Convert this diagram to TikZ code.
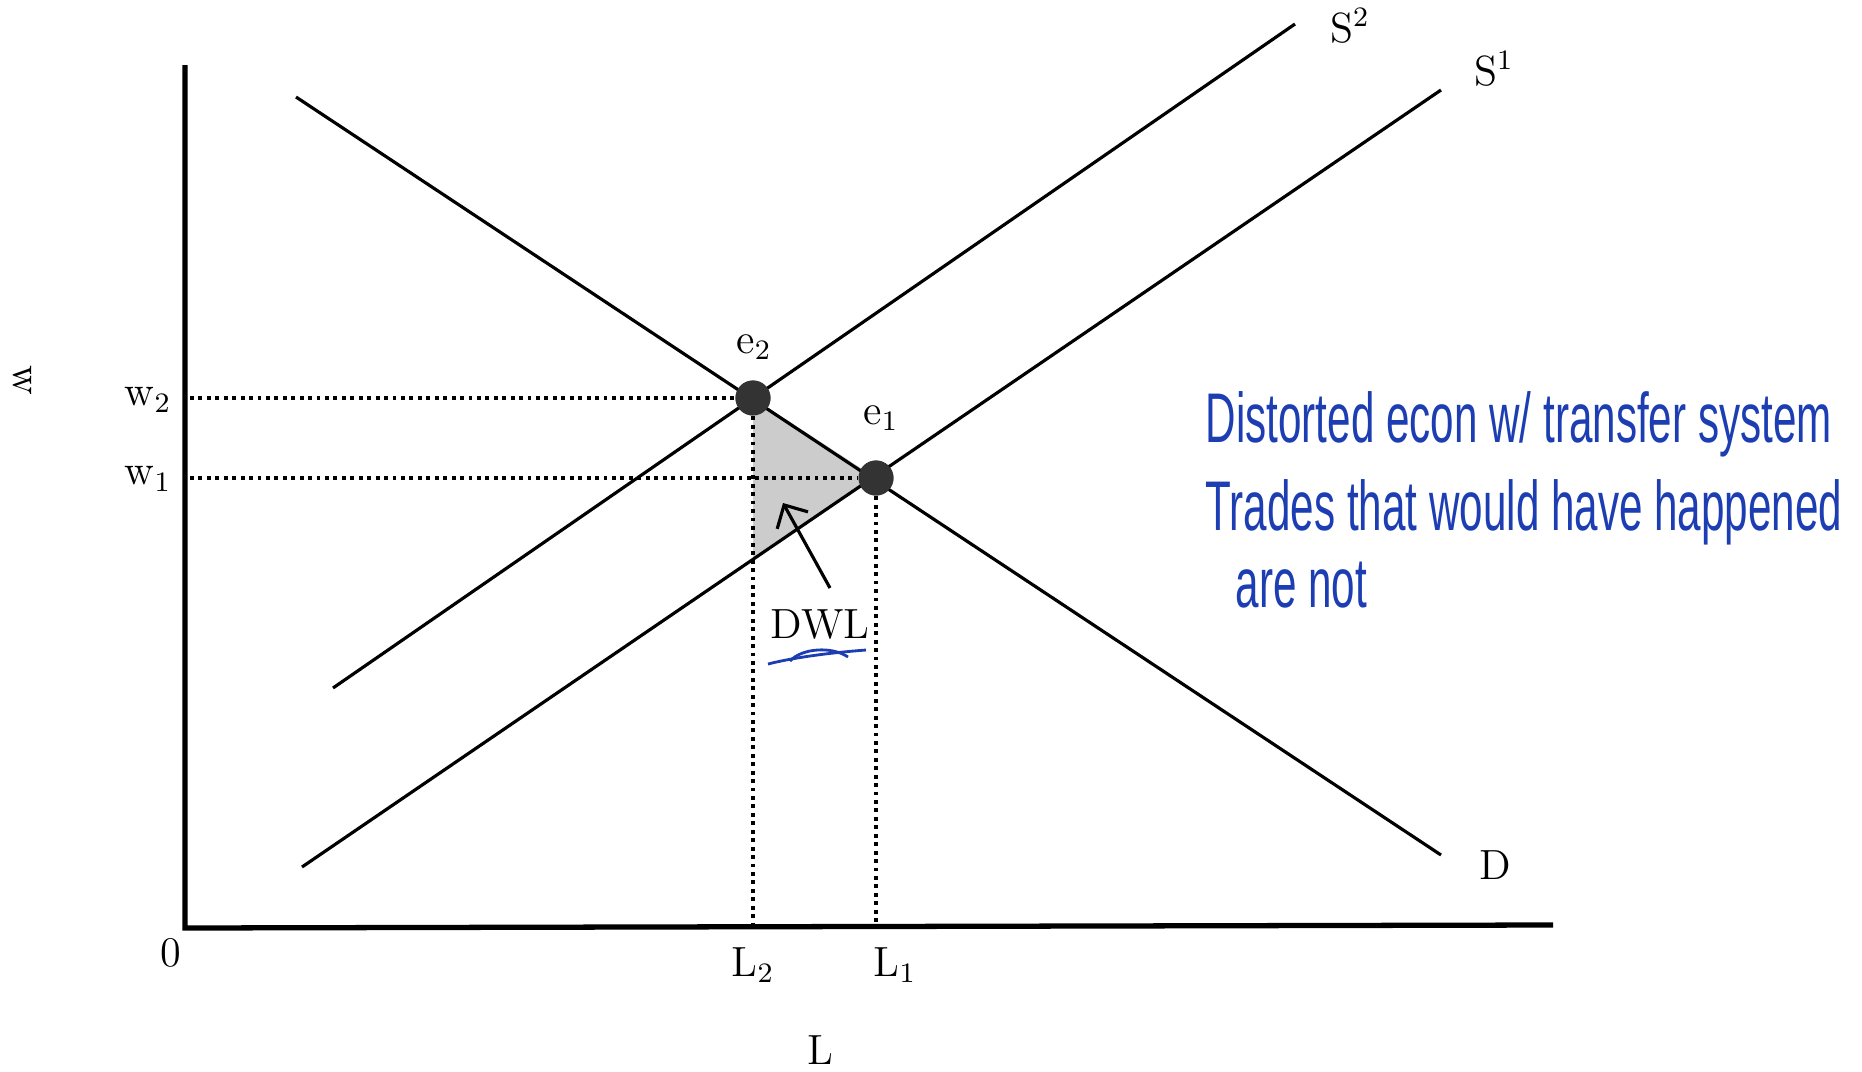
\documentclass[tikz,border=0pt]{standalone}
\usepackage{fontspec}
\usetikzlibrary{arrows.meta,positioning}
\newfontfamily\handfont[FakeStretch=0.6]{Liberation Sans}
\definecolor{inkblue}{RGB}{28,62,178}
\tikzset{
  curve/.style={line width=0.9pt},
  axis/.style={line width=1.5pt},
  guide/.style={line width=1.1pt,dash pattern=on 1.1pt off 1.3pt},
  eqpt/.style={circle,fill=black!80,minimum size=3.5mm,inner sep=0pt},
  lbl/.style={font=\fontsize{12}{14}\selectfont,inner sep=1pt},
  note/.style={text=inkblue,font=\handfont\fontsize{20}{22}\selectfont,anchor=west,inner sep=0pt}
}

\begin{document}
\begin{tikzpicture}[x=0.01cm,y=-0.01cm,>=Stealth]
  \useasboundingbox (0,0) rectangle (1862,1072);
  \coordinate (ytop) at (185,65);
  \coordinate (o) at (185,928);
  \coordinate (xend) at (1553,925);
  \coordinate (d0) at (296,97);
  \coordinate (d1) at (1441,855);
  \coordinate (s10) at (302,867);
  \coordinate (s11) at (1441,90);
  \coordinate (s20) at (333,688);
  \coordinate (s21) at (1295,24);
  \coordinate (dwlb) at (753,558);
  \coordinate (w2a) at (190,398);
  \coordinate (w1a) at (190,478);
  \coordinate (l2a) at (753,927);
  \coordinate (l1a) at (876,927);
  \coordinate (arrtail) at (830,588);
  \coordinate (arrtip) at (783,503);

  \node[eqpt] (e2) at (753,398) {};
  \node[eqpt] (e1) at (876,478) {};

  \fill[black!20] (e2.center) -- (e1.center) -- (dwlb) -- cycle;

  \draw[guide] (w2a) -- (e2.west);
  \draw[guide] (w1a) -- (e1.west);
  \draw[guide] (e2.south) -- (l2a);
  \draw[guide] (e1.south) -- (l1a);

  \draw[curve] (d0) -- (d1);
  \draw[curve] (s10) -- (s11);
  \draw[curve] (s20) -- (s21);
  \draw[axis] (ytop) -- (o) -- (xend);

  \node[eqpt] at (e2) {};
  \node[eqpt] at (e1) {};

  \node[lbl] (s2lab) at (1350,26) {S$^2$};
  \node[lbl] (s1lab) at (1494,69) {S$^1$};
  \node[lbl] (dlab) at (1495,865) {D};
  \node[lbl] (e2lab) at (754,347) {e$_2$};
  \node[lbl] (e1lab) at (881,418) {e$_1$};
  \node[lbl] (w2lab) at (148,400) {w$_2$};
  \node[lbl] (w1lab) at (148,479) {w$_1$};
  \node[lbl] (zero) at (171,953) {0};
  \node[lbl] (l2lab) at (753,965) {L$_2$};
  \node[lbl] (l1lab) at (895,965) {L$_1$};
  \node[lbl] (llab) at (820,1050) {L};
  \node[lbl,rotate=-90] (wlab) at (22,380) {w};
  \node[lbl] (dwl) at (820,625) {DWL};

  \draw[->,curve,>={Straight Barb[length=5pt]}] (arrtail) -- (arrtip);
  \draw[inkblue,line width=0.8pt] (768,664) .. controls (800,656) and (840,652) .. (866,650);
  \draw[inkblue,line width=0.8pt] (790,661) .. controls (802,648) and (832,646) .. (848,657);

  \node[note] (n1) at (1205,424) {Distorted econ w/ transfer system};
  \node[note] (n2) at (1205,512) {Trades that would have happened};
  \node[note] (n3) at (1235,585) {are not};
\end{tikzpicture}
\end{document}
